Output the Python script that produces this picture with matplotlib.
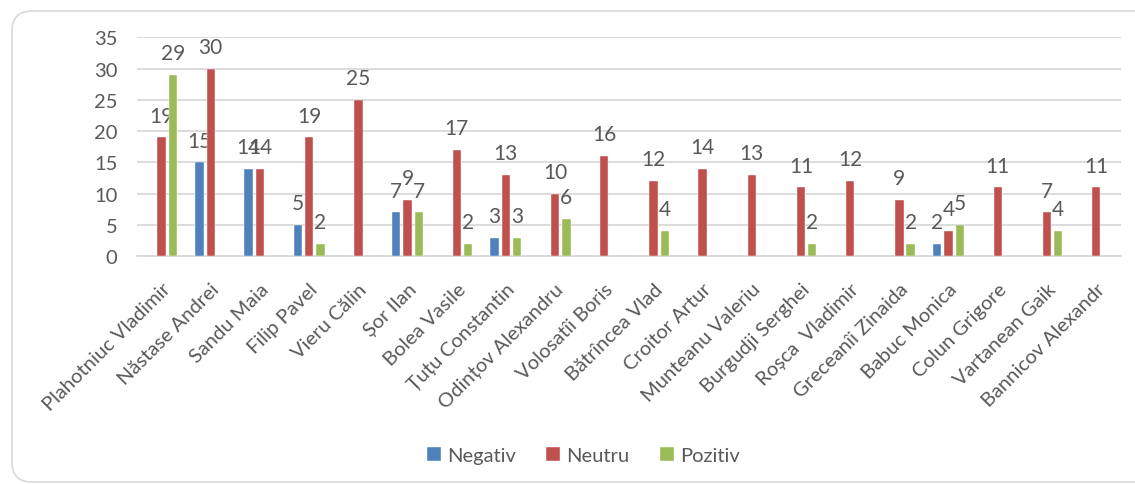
import numpy as np
import matplotlib
matplotlib.use("Agg")
import matplotlib.pyplot as plt
from matplotlib.patches import FancyBboxPatch

# --- Data (None = no bar) ---
names = ["Plahotniuc Vladimir", "Năstase Andrei", "Sandu Maia", "Filip Pavel",
         "Vieru Călin", "Șor Ilan", "Bolea Vasile", "Țuțu Constantin",
         "Odințov Alexandru", "Volosatîi Boris", "Bătrîncea Vlad", "Croitor Artur",
         "Munteanu Valeriu", "Burgudji Serghei", "Roșca  Vladimir", "Greceanîi Zinaida",
         "Babuc Monica", "Colun Grigore", "Vartanean Gaik", "Bannicov Alexandr"]
negativ = [None, 15, 14, 5, None, 7, None, 3, None, None,
           None, None, None, None, None, None, 2, None, None, None]
neutru = [19, 30, 14, 19, 25, 9, 17, 13, 10, 16,
          12, 14, 13, 11, 12, 9, 4, 11, 7, 11]
pozitiv = [29, None, None, 2, None, 7, 2, 3, 6, None,
           4, None, None, 2, None, 2, 5, None, 4, None]

series = [("Negativ", negativ, "#4F81BD"),
          ("Neutru", neutru, "#C0504D"),
          ("Pozitiv", pozitiv, "#9BBB59")]

TEXT = "#595959"
GRID = "#D9D9D9"
plt.rcParams['font.family'] = ['Lato', 'DejaVu Sans']

fig = plt.figure(figsize=(11.35, 4.85), dpi=100)
ax = fig.add_axes([0.1207, 0.4695, 0.8667, 0.4515])

# rounded chart border (inches)
border = FancyBboxPatch((0.12, 0.02), 11.45, 4.71,
                        boxstyle="round,pad=0,rounding_size=0.2",
                        transform=fig.dpi_scale_trans, facecolor="none",
                        edgecolor=GRID, linewidth=1.2, zorder=0)
fig.patches.append(border)

x = np.arange(len(names))
width = 0.17
step = 0.23
for i, (label, vals, color) in enumerate(series):
    h = np.array([np.nan if v is None else v for v in vals], dtype=float)
    pos = x + (i - 1) * step
    ax.bar(pos, h, width, color=color, label=label, zorder=3,
           edgecolor="white", linewidth=0.3)
    for px, v in zip(pos, vals):
        if v is None:
            continue
        ax.annotate(str(v), (px, v), xytext=(0, 8.5), textcoords="offset points",
                    ha="center", va="bottom", fontsize=15, color=TEXT)

ax.set_xlim(-0.5, len(names) - 0.5)
ax.set_ylim(0, 35)
ax.set_yticks(range(0, 36, 5))
ax.yaxis.grid(True, color=GRID, linewidth=1.3, zorder=0)
ax.set_axisbelow(True)
for s in ["top", "right", "left"]:
    ax.spines[s].set_visible(False)
ax.spines["bottom"].set_color(GRID)
ax.spines["bottom"].set_linewidth(1.3)
ax.tick_params(axis="both", length=0, colors=TEXT)
ax.tick_params(axis="y", labelsize=14.5, pad=14)
ax.set_xticks(x)
ax.set_xticklabels(names, rotation=45, ha="right", rotation_mode="anchor",
                   fontsize=14.5, color=TEXT)
ax.tick_params(axis="x", pad=17)

handles, labels = ax.get_legend_handles_labels()
fig.legend(handles, labels, loc="center", bbox_to_anchor=(0.514, 0.058),
           ncol=3, frameon=False, fontsize=14.5, labelcolor=TEXT,
           handlelength=0.7, handleheight=0.7, handletextpad=0.3,
           columnspacing=1.5)

fig.savefig("out.png", dpi=100)
